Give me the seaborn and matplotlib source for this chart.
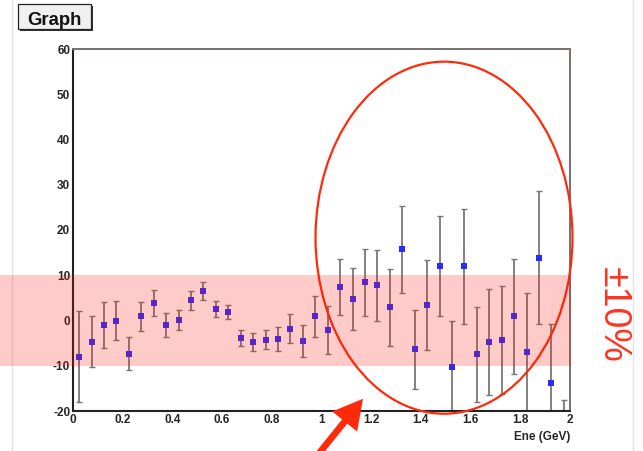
import numpy as np
import pandas as pd
import seaborn as sns
import matplotlib
matplotlib.use("Agg")
import matplotlib.pyplot as plt
from matplotlib.patches import Rectangle, Ellipse
from matplotlib.lines import Line2D
from matplotlib.ticker import MultipleLocator
import matplotlib.transforms as mtransforms

# Bin centres (GeV) and measured deviation (%) with its uncertainty
energy = [0.025, 0.075, 0.125, 0.175, 0.225, 0.275, 0.325, 0.375, 0.425, 0.475,
          0.525, 0.575, 0.625, 0.675, 0.725, 0.775, 0.825, 0.875, 0.925, 0.975,
          1.025, 1.075, 1.125, 1.175, 1.225, 1.275, 1.325, 1.375, 1.425, 1.475,
          1.525, 1.575, 1.625, 1.675, 1.725, 1.775, 1.825, 1.875, 1.925, 1.975]
deviation = [-8.0, -4.7, -1.0, 0.0, -7.3, 0.9, 3.9, -1.0, 0.2, 4.5,
             6.5, 2.5, 1.9, -3.8, -4.8, -4.2, -4.1, -1.8, -4.5, 0.9,
             -2.2, 7.4, 4.8, 8.4, 7.8, 2.9, 15.7, -6.4, 3.4, 12.0,
             -10.2, 12.0, -7.5, -4.8, -4.3, 0.9, -7.0, 13.9, -13.8, -31.0]
error = [10.0, 5.6, 5.0, 4.4, 3.6, 3.2, 2.8, 2.6, 2.2, 2.1,
         1.9, 1.8, 1.6, 1.8, 2.0, 2.2, 2.7, 3.2, 3.6, 4.6,
         5.3, 6.1, 6.8, 7.4, 7.8, 8.5, 9.6, 8.8, 10.0, 11.0,
         10.0, 12.7, 10.5, 11.7, 11.9, 12.7, 13.0, 14.7, 13.1, 13.5]

x_ticks = [0, 0.2, 0.4, 0.6, 0.8, 1.0, 1.2, 1.4, 1.6, 1.8, 2.0]
x_tick_labels = ["0", "0.2", "0.4", "0.6", "0.8", "1", "1.2", "1.4", "1.6", "1.8", "2"]
y_ticks = [-20, -10, 0, 10, 20, 30, 40, 50, 60]
y_tick_labels = ["-20", "-10", "0", "10", "20", "30", "40", "50", "60"]
band_limit = 10.0

df = pd.DataFrame({"energy": energy, "deviation": deviation, "error": error})

sns.set_style("white")
plt.rcParams["font.family"] = ["Liberation Sans", "DejaVu Sans"]
plt.rcParams["axes.unicode_minus"] = False

fig = plt.figure(figsize=(6.43, 4.51), dpi=100)
W, H = 643.0, 451.0
ax = fig.add_axes([73 / W, 1 - 411 / H, (570 - 73) / W, (411 - 49) / H])

# Error bars first, then the square markers
eb = ax.errorbar(df["energy"], df["deviation"], yerr=df["error"], fmt="none",
                 ecolor="#777777", elinewidth=1.3, capsize=1.9, capthick=1.0,
                 zorder=2)
for cap in eb[1]:
    cap.set_color("#222222")
sns.scatterplot(data=df, x="energy", y="deviation", marker="s", s=22,
                color="#2a2aff", linewidth=0, ax=ax, zorder=3, legend=False)

ax.set_xlim(0, 2)
ax.set_ylim(-20, 60)
ax.set_xticks(x_ticks)
ax.set_xticklabels(x_tick_labels)
ax.set_yticks(y_ticks)
ax.set_yticklabels(y_tick_labels)
ax.xaxis.set_minor_locator(MultipleLocator(0.05))
ax.yaxis.set_minor_locator(MultipleLocator(2))
ax.tick_params(axis="y", which="major", direction="in", length=11.5, width=0.9,
               color="#333333", pad=2, labelsize=8.5)
ax.tick_params(axis="y", which="minor", direction="in", length=5.8, width=0.9,
               color="#333333")
ax.tick_params(axis="x", which="major", direction="in", length=8, width=0.9,
               color="#555555", pad=2.5, labelsize=8.5)
ax.tick_params(axis="x", which="minor", direction="in", length=4, width=0.9,
               color="#555555")
ax.tick_params(top=False, right=False, which="both")
for lab in ax.get_xticklabels() + ax.get_yticklabels():
    lab.set_fontweight("bold")

for side in ("left", "bottom"):
    ax.spines[side].set_color("#222222")
    ax.spines[side].set_linewidth(1.5)
for side in ("top", "right"):
    ax.spines[side].set_color("#7a6e6e")
    ax.spines[side].set_linewidth(1.4)

ax.set_xlabel("Ene (GeV)", loc="right", fontsize=8.5, fontweight="bold",
              labelpad=3.5)
ax.set_ylabel("")

# Translucent ±10 % band spanning from the canvas edge to the frame
band_tf = mtransforms.blended_transform_factory(fig.transFigure, ax.transData)
fig.add_artist(Rectangle((0, -band_limit), 571 / W, 2 * band_limit,
                         transform=band_tf, facecolor=(1.0, 0.08, 0.02),
                         alpha=0.22, edgecolor="none", zorder=5))

# Highlight of the high-energy region
ax.add_patch(Ellipse((1.493, 18.3), 1.034, 77.8, fill=False,
                     edgecolor="#ff2a0a", linewidth=1.6, clip_on=False,
                     zorder=6))
ax.annotate("", xy=(1.167, -17.3), xytext=(0.966, -31.0),
            arrowprops=dict(width=4.8, headwidth=23, headlength=21,
                            facecolor="#ff2a0a", edgecolor="none", shrink=0),
            annotation_clip=False, zorder=7)

fig.text(613 / W, 1 - 315 / H, "\u00b110%", rotation=-90, ha="center",
         va="center", fontsize=27, color="#ff3322", fontweight="light")

# Canvas frame lines
fig.add_artist(Line2D([12 / W, 12 / W], [0, 1], color="#e4e4e4", lw=1.0))
fig.add_artist(Line2D([633 / W, 633 / W], [0, 1], color="#e4e4e4", lw=1.0))

# "Graph" title box with drop shadow
fig.add_artist(Rectangle((19.5 / W, 1 - 30.5 / H), 73.5 / W, 25 / H,
                         facecolor="#333333", edgecolor="none", zorder=8))
fig.add_artist(Rectangle((17.5 / W, 1 - 28.5 / H), 73 / W, 24.5 / H,
                         facecolor="#f0f0f0", edgecolor="#222222", lw=0.9,
                         zorder=9))
fig.text(54 / W, 1 - 25 / H, "Graph", ha="center", va="baseline",
         fontsize=13.3, fontweight="bold", color="#111111", zorder=10)

fig.savefig("out.png", dpi=100)
